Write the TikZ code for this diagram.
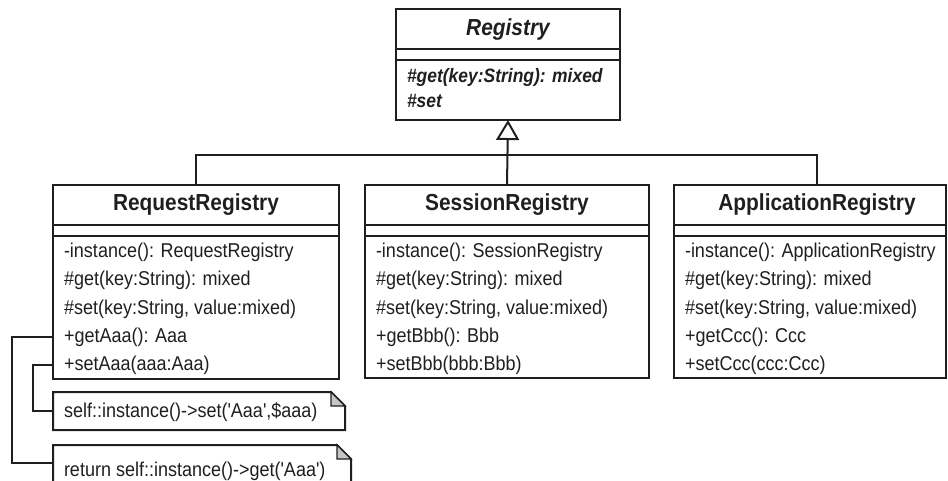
\documentclass[tikz,border=0pt]{standalone}
\usepackage{fontspec}
\setmainfont{Liberation Sans}[Ligatures=TeXOff, FakeStretch=0.9]
\usetikzlibrary{calc,arrows.meta}
\begin{document}
\begin{tikzpicture}[x=1pt,y=-1pt, line width=2pt, color=black!88,
  box/.style={draw, line width=2pt, inner sep=0, outer sep=0, anchor=north west},
  titletext/.style={font=\fontsize{23.2}{26}\selectfont\bfseries, inner sep=0},
  regtext/.style={font=\fontsize{19.4}{22}\selectfont\bfseries\itshape, anchor=west, inner sep=0, text height=14pt, text depth=4pt},
  op/.style={font=\fontsize{20}{22}\selectfont, anchor=west, inner sep=0, text height=14pt, text depth=4pt},
  notebox/.style={inner sep=0, outer sep=0, anchor=north west},
  fold/.style={fill=gray!45, line width=1.4pt},
  conn/.style={line width=2pt}
]
\useasboundingbox (0,0) rectangle (948,481);
\clip (0,0) rectangle (948,481);

% Registry
\node[box, minimum width=224pt, minimum height=111pt] (reg) at (396,9) {};
\draw ([yshift=-40pt]reg.north west) -- ([yshift=-40pt]reg.north east);
\draw ([yshift=-51pt]reg.north west) -- ([yshift=-51pt]reg.north east);
\node[titletext, font=\fontsize{23.2}{26}\selectfont\bfseries\itshape] (regT) at ($(reg.north)+(0,21)$) {Registry};
\node[regtext] (reg1) at (406,78) {\#get(key:String): mixed};
\node[regtext] (reg2) at (406,103) {\#set};

% RequestRegistry
\node[box, minimum width=286pt, minimum height=194pt] (req) at (53,185) {};
\draw ([yshift=-40pt]req.north west) -- ([yshift=-40pt]req.north east);
\draw ([yshift=-51pt]req.north west) -- ([yshift=-51pt]req.north east);
\node[titletext] (reqT) at ($(req.north)+(0,20)$) {RequestRegistry};
\node[op] (r1) at (63,253) {-instance(): RequestRegistry};
\node[op] (r2) at (63,281) {\#get(key:String): mixed};
\node[op] (r3) at (63,309) {\#set(key:String, value:mixed)};
\node[op] (r4) at (63,337) {+getAaa(): Aaa};
\node[op] (r5) at (63,365) {+setAaa(aaa:Aaa)};

% SessionRegistry
\node[box, minimum width=284pt, minimum height=193pt] (ses) at (365,185) {};
\draw ([yshift=-40pt]ses.north west) -- ([yshift=-40pt]ses.north east);
\draw ([yshift=-51pt]ses.north west) -- ([yshift=-51pt]ses.north east);
\node[titletext] (sesT) at ($(ses.north)+(0,20)$) {SessionRegistry};
\node[op] (s1) at (375,253) {-instance(): SessionRegistry};
\node[op] (s2) at (375,281) {\#get(key:String): mixed};
\node[op] (s3) at (375,309) {\#set(key:String, value:mixed)};
\node[op] (s4) at (375,337) {+getBbb(): Bbb};
\node[op] (s5) at (375,365) {+setBbb(bbb:Bbb)};

% ApplicationRegistry
\node[box, minimum width=272pt, minimum height=193pt] (app) at (674,185) {};
\draw ([yshift=-40pt]app.north west) -- ([yshift=-40pt]app.north east);
\draw ([yshift=-51pt]app.north west) -- ([yshift=-51pt]app.north east);
\node[titletext] (appT) at (817,205) {ApplicationRegistry};
\node[op] (a1) at (684,253) {-instance(): ApplicationRegistry};
\node[op] (a2) at (684,281) {\#get(key:String): mixed};
\node[op] (a3) at (684,309) {\#set(key:String, value:mixed)};
\node[op] (a4) at (684,337) {+getCcc(): Ccc};
\node[op] (a5) at (684,365) {+setCcc(ccc:Ccc)};

% Generalization
\coordinate (jn) at (507,155);
\coordinate (appc) at (817,185);
\draw[conn, -{Triangle[open, length=20pt, width=23pt, line width=2pt]}] (ses.north) -- (reg.south);
\draw[conn] (req.north) |- (jn) -| (appc);

% Notes
\node[notebox, minimum width=292pt, minimum height=38pt] (n1) at (53,392) {};
\draw (n1.north west) -- ([xshift=-14pt]n1.north east) -- ([yshift=-14pt]n1.north east) -- (n1.south east) -- (n1.south west) -- cycle;
\draw[fold] ([xshift=-14pt]n1.north east) -- ([xshift=-14pt,yshift=-14pt]n1.north east) -- ([yshift=-14pt]n1.north east) -- cycle;
\node[op] (n1t) at (63,412) {self::instance()->set('Aaa',\$aaa)};

\node[notebox, minimum width=298pt, minimum height=36pt] (n2) at (53,445) {};
\draw ([yshift=-20pt]n2.south west) -- (n2.north west) -- ([xshift=-14pt]n2.north east) -- ([yshift=-14pt]n2.north east) -- ([yshift=-20pt]n2.south east);
\draw[fold] ([xshift=-14pt]n2.north east) -- ([xshift=-14pt,yshift=-14pt]n2.north east) -- ([yshift=-14pt]n2.north east) -- cycle;
\node[op] (n2t) at (63,471) {return self::instance()->get('Aaa')};

% Note connectors
\draw[conn] (req.west |- r4) -- ++(-41,0) |- (n2.west);
\draw[conn] (req.west |- r5) -- ++(-20,0) |- (n1.west);
\end{tikzpicture}
\end{document}
